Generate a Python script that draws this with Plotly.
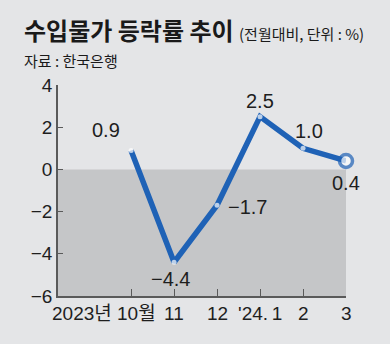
import plotly.graph_objects as go

# Monthly import price change (% vs previous month)
months = ["2023년 10월", "11", "12", "'24.\u20091", "2", "3"]
values = [0.9, -4.4, -1.7, 2.5, 1.0, 0.4]
y_ticks = [4, 2, 0, -2, -4, -6]

BG = "#e4e5e7"
SHADE = "#c5c6c8"
BLUE = "#1f62b6"
AXIS = "#5a5a5a"
TXT = "#1e1e1e"
NUM_FONT = "Liberation Sans Narrow, Liberation Sans, Noto Sans CJK KR, sans-serif"
KR_FONT = "Noto Sans CJK KR, sans-serif"

x_idx = list(range(len(months)))

fig = go.Figure()

# blue line with small white dots at each month
fig.add_trace(go.Scatter(
    x=x_idx, y=values, mode="lines+markers",
    line=dict(color=BLUE, width=5.5),
    marker=dict(size=[5] * (len(values) - 1) + [13],
                color="white",
                line=dict(color=BLUE, width=[0] * (len(values) - 1) + [3.5])),
    hoverinfo="skip", showlegend=False, cliponaxis=False,
))

# negative zone shading
fig.add_shape(type="rect", xref="paper", yref="y", x0=0, x1=1, y0=-6, y1=0,
              fillcolor=SHADE, line=dict(width=0), layer="below")

# value labels
offsets = [(-25, 20), (-4, -17), (30, -2), (0, 16), (6, 17), (0, -22)]
for i, (v, (dx, dy)) in enumerate(zip(values, offsets)):
    label = f"{v:.1f}".replace("-", "\u2212")
    fig.add_annotation(x=i, y=v, xref="x", yref="y", text=label, showarrow=False,
                       xshift=dx, yshift=dy,
                       font=dict(family=NUM_FONT, size=20, color=TXT))

# category labels under the axis
for i, m in enumerate(months):
    first = i == 0
    fig.add_annotation(x=i, y=0, xref="x", yref="paper", text=m, showarrow=False,
                       xanchor="right" if first else "center", yanchor="top",
                       xshift=27 if first else 0, yshift=-5,
                       font=dict(family=NUM_FONT, size=19, color=TXT))

# heading and source
fig.add_annotation(x=-0.125, y=1.262, xref="paper", yref="paper", xanchor="left", yanchor="middle",
                   text="<b>수입물가 등락률 추이</b> <span style='font-size:15px'>(전월대비, 단위 : %)</span>",
                   showarrow=False, font=dict(family=KR_FONT, size=24, color="#1a1a1a"))
fig.add_annotation(x=-0.125, y=1.118, xref="paper", yref="paper", xanchor="left", yanchor="middle",
                   text="자료 : 한국은행", showarrow=False,
                   font=dict(family=KR_FONT, size=15, color="#1a1a1a"))

fig.update_xaxes(range=[-1.7, 5], tickvals=x_idx, ticktext=[""] * len(months),
                 ticks="inside", ticklen=7, tickcolor=AXIS, tickwidth=1,
                 showline=True, linecolor=AXIS, linewidth=1.5,
                 showgrid=False, zeroline=False, fixedrange=True)
fig.update_yaxes(range=[-6, 4], tickvals=y_ticks,
                 ticktext=[str(t).replace("-", "\u2212") for t in y_ticks],
                 ticks="inside", ticklen=5, tickcolor=AXIS, tickwidth=1,
                 showline=True, linecolor=AXIS, linewidth=1.5,
                 showgrid=False, zeroline=False, fixedrange=True,
                 tickfont=dict(family=NUM_FONT, size=19, color=TXT))

fig.update_layout(
    width=390, height=344,
    margin=dict(l=58, r=44, t=85, b=48),
    paper_bgcolor=BG, plot_bgcolor="rgba(0,0,0,0)",
    showlegend=False,
)

fig.write_html("out.html", config={"displayModeBar": False})
